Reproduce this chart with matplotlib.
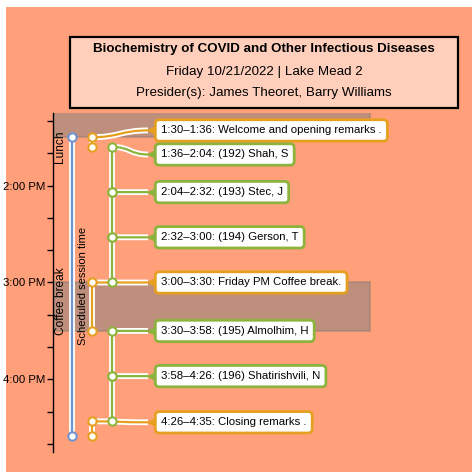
import matplotlib
matplotlib.use('Agg')
import matplotlib.pyplot as plt
from matplotlib.patches import Rectangle, PathPatch
from matplotlib.path import Path
from matplotlib.ticker import MultipleLocator
import matplotlib.patheffects as pe

plt.rcParams['font.family'] = ['Liberation Sans', 'DejaVu Sans']

# ---------------- data ----------------
title = "Biochemistry of COVID and Other Infectious Diseases"
subtitle = "Friday 10/21/2022 | Lake Mead 2"
presiders = "Presider(s): James Theoret, Barry Williams"

event_starts = ["1:30", "1:36", "2:04", "2:32", "3:00", "3:30", "3:58", "4:26"]
event_ends = ["1:36", "2:04", "2:32", "3:00", "3:30", "3:58", "4:26", "4:35"]
event_titles = ["Welcome and opening remarks .", "(192) Shah, S", "(193) Stec, J",
                "(194) Gerson, T", "Friday PM Coffee break.", "(195) Almolhim, H",
                "(196) Shatirishvili, N", "Closing remarks ."]
event_kinds = ["misc", "talk", "talk", "talk", "misc", "talk", "talk", "misc"]

break_names = ["Lunch", "Coffee break"]
break_starts = ["12:00", "3:00"]
break_ends = ["1:30", "3:30"]

session_label = "Scheduled session time"
session_start = "1:30"
session_end = "4:35"

tick_values = ["2:00", "3:00", "4:00"]
tick_labels = ["2:00 PM", "3:00 PM", "4:00 PM"]


def to_h(s):
    h, m = s.split(':')
    h = int(h)
    if h < 12:
        h += 12
    return h + int(m) / 60.0


# ---------------- layout / style ----------------
W, H = 472, 473
SALMON = '#FFA07A'
ORANGE = '#E6A020'
GREEN = '#8CB43C'
BLUE = '#7094D0'
kind_color = {"misc": ORANGE, "talk": GREEN}
kind_lane = {"misc": 39, "talk": 59}
blue_lane = 19
tip_x = 95
text_x = 108
label_shift_min = [-4.2, 4.7, 0, 0, 0, 0, 0, 0.6]  # label de-overlap offsets (layout)
break_label_y = [13.596, 15.19]                      # label placement (layout)
halo = [pe.Stroke(linewidth=4.2, foreground='white'), pe.Normal()]

fig = plt.figure(figsize=(W / 100, H / 100), dpi=100, facecolor='white')
fig.patches.append(Rectangle((6 / W, 1 / H), (W - 6) / W, (H - 8) / H,
                             transform=fig.transFigure, fc=SALMON, ec='none', zorder=-10))

ax = fig.add_axes([53 / W, 1 - 452 / H, 417 / W, 339 / H])
ax.set_facecolor('none')
ax.set_xlim(0, 417)
ax.set_ylim(to_h("4:45"), to_h("1:15"))
for s in ['top', 'right', 'bottom']:
    ax.spines[s].set_visible(False)
ax.spines['left'].set_linewidth(1.0)
ax.set_xticks([])
ax.set_yticks([to_h(t) for t in tick_values])
ax.set_yticklabels(tick_labels)
ax.yaxis.set_minor_locator(MultipleLocator(1 / 3))
ax.tick_params(axis='y', which='both', direction='out', length=4, width=1,
               pad=1.5, labelsize=8.2, colors='black')

# break boxes
for name, s, e, yl in zip(break_names, break_starts, break_ends, break_label_y):
    hs, he = to_h(s), to_h(e)
    ax.add_patch(Rectangle((0, hs), 317, he - hs, fc=(0.5, 0.5, 0.5, 0.5),
                           ec=(0.45, 0.45, 0.45, 0.35), lw=1.5, zorder=1, clip_on=True))
    ax.text(7.5, yl, name, rotation=90, ha='center', va='center', fontsize=8.6, zorder=2)

# session line
ss, se = to_h(session_start), to_h(session_end)
ax.plot([blue_lane, blue_lane], [ss, se], color=BLUE, lw=1.6, path_effects=halo, zorder=3)
ax.plot([blue_lane, blue_lane], [ss, se], 'o', ms=6, mfc='white', mec=BLUE, mew=1.5, zorder=6)
ax.text(30, 15.04, session_label, rotation=90, ha='center', va='center', fontsize=8, zorder=2)

# events
for i, (s, e, t, k) in enumerate(zip(event_starts, event_ends, event_titles, event_kinds)):
    hs, he = to_h(s), to_h(e)
    c = kind_color[k]
    x = kind_lane[k]
    ly = hs + label_shift_min[i] / 60.0
    ax.plot([x, x], [hs, he], color=c, lw=1.6, path_effects=halo, zorder=3,
            solid_capstyle='butt')
    # connector
    xm = (x + tip_x) / 2
    path = Path([(x, hs), (xm, hs), (xm, ly), (tip_x, ly)],
                [Path.MOVETO, Path.CURVE4, Path.CURVE4, Path.CURVE4])
    ax.add_patch(PathPatch(path, fc='none', ec=c, lw=1.6, path_effects=halo, zorder=4))
    ax.plot([x, x], [hs, he], 'o', ms=6, mfc='white', mec=c, mew=1.5, zorder=6)
    ax.plot([tip_x + 4], [ly], marker='<', ms=8, color=c, mec='none', zorder=7)
    ax.text(text_x, ly, f"{s}\u2013{e}: {t}", ha='left', va='center', fontsize=8.2,
            color='black', zorder=8,
            bbox=dict(boxstyle='round,pad=0.5,rounding_size=0.35', fc='white', ec=c, lw=2))

# title box
fig.patches.append(Rectangle((70 / W, 1 - 108 / H), 388 / W, 71 / H, transform=fig.transFigure,
                             fc='#FFCFBC', ec='black', lw=1.6, zorder=5))
cx = 264 / W
fig.text(cx, 1 - 49 / H, title, ha='center', va='center', fontsize=9.6, fontweight='bold', zorder=6)
fig.text(cx, 1 - 71.5 / H, subtitle, ha='center', va='center', fontsize=9.6, zorder=6)
fig.text(cx, 1 - 93 / H, presiders, ha='center', va='center', fontsize=9.6, zorder=6)

fig.savefig('out.png', dpi=100, facecolor=fig.get_facecolor())
